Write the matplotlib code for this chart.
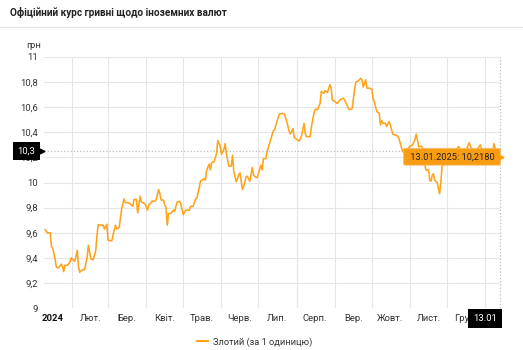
import matplotlib
matplotlib.use("Agg")
import matplotlib.pyplot as plt
import matplotlib.dates as mdates
import matplotlib.transforms as mtransforms
from matplotlib.lines import Line2D
from matplotlib.ticker import FixedLocator, FuncFormatter
import pandas as pd

plt.rcParams["font.family"] = ["Roboto", "DejaVu Sans"]

# Official NBU rate of the Polish zloty, UAH per 1 PLN
dates = [
    "2024-01-10", "2024-01-12", "2024-01-14", "2024-01-15", "2024-01-16", "2024-01-18",
    "2024-01-19", "2024-01-21", "2024-01-23", "2024-01-24", "2024-01-25", "2024-01-26",
    "2024-01-28", "2024-01-30", "2024-01-31", "2024-02-02", "2024-02-03", "2024-02-05",
    "2024-02-06", "2024-02-07", "2024-02-09", "2024-02-11", "2024-02-13", "2024-02-14",
    "2024-02-16", "2024-02-18", "2024-02-20", "2024-02-21", "2024-02-22", "2024-02-24",
    "2024-02-26", "2024-02-27", "2024-02-29", "2024-03-01", "2024-03-04", "2024-03-05",
    "2024-03-07", "2024-03-08", "2024-03-10", "2024-03-12", "2024-03-14", "2024-03-15",
    "2024-03-17", "2024-03-19", "2024-03-21", "2024-03-22", "2024-03-24", "2024-03-25",
    "2024-03-27", "2024-03-28", "2024-03-31", "2024-04-02", "2024-04-03", "2024-04-06",
    "2024-04-08", "2024-04-09", "2024-04-11", "2024-04-12", "2024-04-13", "2024-04-15",
    "2024-04-16", "2024-04-17", "2024-04-18", "2024-04-19", "2024-04-21", "2024-04-23",
    "2024-04-24", "2024-04-26", "2024-04-28", "2024-04-29", "2024-05-01", "2024-05-03",
    "2024-05-06", "2024-05-07", "2024-05-09", "2024-05-11", "2024-05-12", "2024-05-14",
    "2024-05-15", "2024-05-18", "2024-05-19", "2024-05-20", "2024-05-22", "2024-05-23",
    "2024-05-24", "2024-05-26", "2024-05-28", "2024-05-29", "2024-05-31", "2024-06-01",
    "2024-06-03", "2024-06-04", "2024-06-05", "2024-06-07", "2024-06-09", "2024-06-10",
    "2024-06-11", "2024-06-13", "2024-06-15", "2024-06-16", "2024-06-18", "2024-06-19",
    "2024-06-21", "2024-06-22", "2024-06-24", "2024-06-26", "2024-06-27", "2024-06-29",
    "2024-06-30", "2024-07-03", "2024-07-04", "2024-07-05", "2024-07-07", "2024-07-08",
    "2024-07-10", "2024-07-11", "2024-07-13", "2024-07-14", "2024-07-16", "2024-07-18",
    "2024-07-20", "2024-07-22", "2024-07-24", "2024-07-26", "2024-07-27", "2024-07-29",
    "2024-07-30", "2024-08-01", "2024-08-03", "2024-08-05", "2024-08-07", "2024-08-08",
    "2024-08-09", "2024-08-12", "2024-08-13", "2024-08-15", "2024-08-16", "2024-08-18",
    "2024-08-20", "2024-08-21", "2024-08-23", "2024-08-24", "2024-08-26", "2024-08-28",
    "2024-08-29", "2024-08-30", "2024-09-01", "2024-09-03", "2024-09-04", "2024-09-06",
    "2024-09-08", "2024-09-10", "2024-09-12", "2024-09-13", "2024-09-15", "2024-09-17",
    "2024-09-18", "2024-09-20", "2024-09-22", "2024-09-23", "2024-09-24", "2024-09-26",
    "2024-09-27", "2024-09-29", "2024-10-01", "2024-10-02", "2024-10-03", "2024-10-05",
    "2024-10-07", "2024-10-08", "2024-10-09", "2024-10-10", "2024-10-12", "2024-10-13",
    "2024-10-15", "2024-10-16", "2024-10-18", "2024-10-20", "2024-10-22", "2024-10-23",
    "2024-10-25", "2024-10-26", "2024-10-27", "2024-10-29", "2024-10-30", "2024-11-01",
    "2024-11-03", "2024-11-05", "2024-11-06", "2024-11-07", "2024-11-08", "2024-11-10",
    "2024-11-11", "2024-11-12", "2024-11-13", "2024-11-14", "2024-11-16", "2024-11-17",
    "2024-11-18", "2024-11-19", "2024-11-20", "2024-11-21", "2024-11-23", "2024-11-25",
    "2024-11-26", "2024-11-27", "2024-11-29", "2024-11-30", "2024-12-03", "2024-12-05",
    "2024-12-08", "2024-12-10", "2024-12-11", "2024-12-13", "2024-12-15", "2024-12-17",
    "2024-12-19", "2024-12-20", "2024-12-22", "2024-12-24", "2024-12-28", "2024-12-29",
    "2025-01-01", "2025-01-03", "2025-01-06", "2025-01-07", "2025-01-08", "2025-01-10",
    "2025-01-11", "2025-01-13",
]
rates = [
    9.624, 9.597, 9.600, 9.490, 9.480, 9.390,
    9.325, 9.320, 9.350, 9.330, 9.290, 9.340,
    9.340, 9.365, 9.400, 9.380, 9.370, 9.460,
    9.325, 9.285, 9.305, 9.305, 9.405, 9.500,
    9.390, 9.385, 9.460, 9.580, 9.665, 9.660,
    9.660, 9.630, 9.667, 9.540, 9.535, 9.580,
    9.660, 9.630, 9.640, 9.790, 9.870, 9.840,
    9.840, 9.830, 9.810, 9.865, 9.865, 9.757,
    9.890, 9.845, 9.830, 9.780, 9.820, 9.853,
    9.850, 9.864, 9.944, 9.910, 9.860, 9.860,
    9.820, 9.805, 9.660, 9.750, 9.755, 9.780,
    9.770, 9.845, 9.850, 9.830, 9.744, 9.780,
    9.780, 9.810, 9.810, 9.870, 9.875, 9.960,
    10.013, 10.030, 10.020, 10.100, 10.146, 10.100,
    10.157, 10.165, 10.230, 10.333, 10.290, 10.226,
    10.264, 10.310, 10.230, 10.130, 10.130, 10.218,
    10.085, 10.005, 10.060, 10.077, 9.944, 9.970,
    10.045, 10.050, 10.010, 10.120, 10.058, 10.040,
    10.040, 10.138, 10.100, 10.190, 10.190, 10.245,
    10.310, 10.340, 10.410, 10.420, 10.485, 10.546,
    10.550, 10.545, 10.485, 10.405, 10.386, 10.430,
    10.360, 10.344, 10.330, 10.370, 10.470, 10.390,
    10.365, 10.365, 10.445, 10.550, 10.584, 10.580,
    10.630, 10.725, 10.710, 10.733, 10.717, 10.780,
    10.752, 10.658, 10.645, 10.630, 10.645, 10.664,
    10.672, 10.637, 10.590, 10.580, 10.590, 10.740,
    10.800, 10.810, 10.830, 10.818, 10.760, 10.818,
    10.752, 10.752, 10.744, 10.672, 10.645, 10.565,
    10.552, 10.458, 10.493, 10.472, 10.472, 10.445,
    10.485, 10.458, 10.386, 10.378, 10.370, 10.352,
    10.280, 10.245, 10.260, 10.240, 10.270, 10.290,
    10.298, 10.340, 10.386, 10.340, 10.285, 10.290,
    10.280, 10.200, 10.138, 10.098, 10.100, 10.018,
    10.010, 10.058, 10.070, 10.018, 10.000, 9.910,
    10.000, 10.125, 10.157, 10.190, 10.220, 10.250,
    10.240, 10.285, 10.280, 10.240, 10.250, 10.270,
    10.317, 10.290, 10.250, 10.240, 10.300, 10.270,
    10.250, 10.220, 10.140, 10.200, 10.310, 10.240,
    10.200, 10.218,
]

month_starts = ["2024-02-01", "2024-03-01", "2024-04-01", "2024-05-01", "2024-06-01",
                "2024-07-01", "2024-08-01", "2024-09-01", "2024-10-01", "2024-11-01",
                "2024-12-01", "2025-01-01"]
month_label_dates = ["2024-01-16", "2024-02-16", "2024-03-16", "2024-04-16", "2024-05-16",
                     "2024-06-16", "2024-07-16", "2024-08-16", "2024-09-16", "2024-10-16",
                     "2024-11-16", "2024-12-16"]
month_labels = ["2024", "Лют.", "Бер.", "Квіт.", "Трав.", "Черв.", "Лип.", "Серп.",
                "Вер.", "Жовт.", "Лист.", "Груд."]
y_ticks = [9.0, 9.2, 9.4, 9.6, 9.8, 10.0, 10.2, 10.4, 10.6, 10.8, 11.0]
cursor_value = 10.25
cursor_label = "10,3"
series_name = "Злотий (за 1 одиницю)"
title = "Офіційний курс гривні щодо іноземних валют"

LINE = "#ffa31a"
TIP = "#f89c12"
GRID = "#e6e6e6"
TEXT = "#333333"
FS = 6.8

x = pd.to_datetime(dates)
last_x = mdates.date2num(x[-1])
W, H = 523, 350
fig = plt.figure(figsize=(W / 100, H / 100), dpi=100)
fig.patch.set_facecolor("white")
ax = fig.add_axes([44 / W, 1 - 308 / H, 456 / W, 251 / H])

ax.plot(x, rates, color=LINE, lw=1.15, zorder=3, solid_joinstyle="round")

ax.set_xlim(pd.Timestamp("2024-01-09"), pd.Timestamp("2025-01-13"))
ax.set_ylim(9, 11)
for s in ax.spines.values():
    s.set_visible(False)

ax.yaxis.set_major_locator(FixedLocator(y_ticks))
ax.yaxis.set_major_formatter(FuncFormatter(
    lambda v, p: (f"{v:.1f}".rstrip("0").rstrip(".")).replace(".", ",")))
ax.tick_params(axis="y", length=0, pad=4.3, labelsize=FS, labelcolor=TEXT)

ax.set_xticks(pd.to_datetime(month_starts))
ax.set_xticklabels([""] * len(month_starts))
ax.set_xticks(pd.to_datetime(month_label_dates), labels=month_labels, minor=True)
ax.tick_params(axis="x", which="both", length=0, pad=4, labelsize=FS, labelcolor=TEXT)
ax.get_xticklabels(minor=True)[0].set_fontweight("bold")
ax.get_xticklabels(minor=True)[0].set_color("#111111")

ax.grid(True, which="major", color=GRID, lw=0.8)
ax.set_axisbelow(True)

# crosshair
dot = (0, (1, 1.6))
ax.axhline(cursor_value, color="#bdbdbd", lw=0.9, ls=dot, zorder=2)
ax.axvline(last_x, color="#bdbdbd", lw=0.9, ls=dot, zorder=2, clip_on=False)

yaxis_tr = mtransforms.blended_transform_factory(ax.transAxes, ax.transData)
xaxis_tr = mtransforms.blended_transform_factory(ax.transData, ax.transAxes)

ax.annotate(cursor_label, xy=(0, cursor_value), xycoords=yaxis_tr,
            xytext=(-17.5, 0), textcoords="offset pixels", ha="center", va="center",
            fontsize=FS, color="white", zorder=6, annotation_clip=False,
            bbox=dict(boxstyle="square,pad=0.45", fc="black", ec="none"))
ax.plot([0], [cursor_value], marker=">", ms=3.5, color="black", zorder=6, clip_on=False,
        transform=mtransforms.offset_copy(yaxis_tr, fig=fig, x=-2.5, y=0, units="dots"))

ax.annotate(x[-1].strftime("%d.%m"), xy=(last_x, 0), xycoords=xaxis_tr,
            xytext=(-15, -10.5), textcoords="offset pixels", ha="center", va="center",
            fontsize=FS, color="white", zorder=6, annotation_clip=False,
            bbox=dict(boxstyle="square,pad=0.5", fc="black", ec="none"))

# tooltip for the latest value
tip_text = " {}: {} ".format(x[-1].strftime("%d.%m.%Y"),
                             f"{rates[-1]:.4f}".replace(".", ","))
ax.annotate(tip_text, xy=(last_x, rates[-1]), xycoords="data",
            xytext=(-48, -1.6), textcoords="offset pixels", ha="center", va="center",
            fontsize=6.7, color="#222222", zorder=7, annotation_clip=False,
            bbox=dict(boxstyle="round,pad=0.42,rounding_size=0.15", fc=TIP,
                      ec="#f5bd6a", lw=0.6))
ax.plot([last_x], [rates[-1]], marker=">", ms=3.5, color=TIP, zorder=7, clip_on=False,
        transform=mtransforms.offset_copy(ax.transData, fig=fig, x=0.5, y=-1.6, units="dots"))

# header
fig.text(10 / W, 1 - 12.5 / H, title, fontsize=7.2, fontweight="bold", color="#222222",
         va="center", ha="left")
fig.add_artist(Line2D([0, 1], [1 - 27 / H, 1 - 27 / H], color="#e2e2e2", lw=0.9))
fig.text(26 / W, 1 - 45 / H, "грн", fontsize=FS, color=TEXT, va="center", ha="left")

fig.legend(handles=[Line2D([], [], color=LINE, lw=1.5)], labels=[series_name],
           loc="center", bbox_to_anchor=(254.5 / W, 1 - 342 / H), frameon=False,
           fontsize=6.7, handlelength=1.25, handletextpad=0.5, labelcolor=TEXT)

fig.savefig("out.png", dpi=100, facecolor="white")
